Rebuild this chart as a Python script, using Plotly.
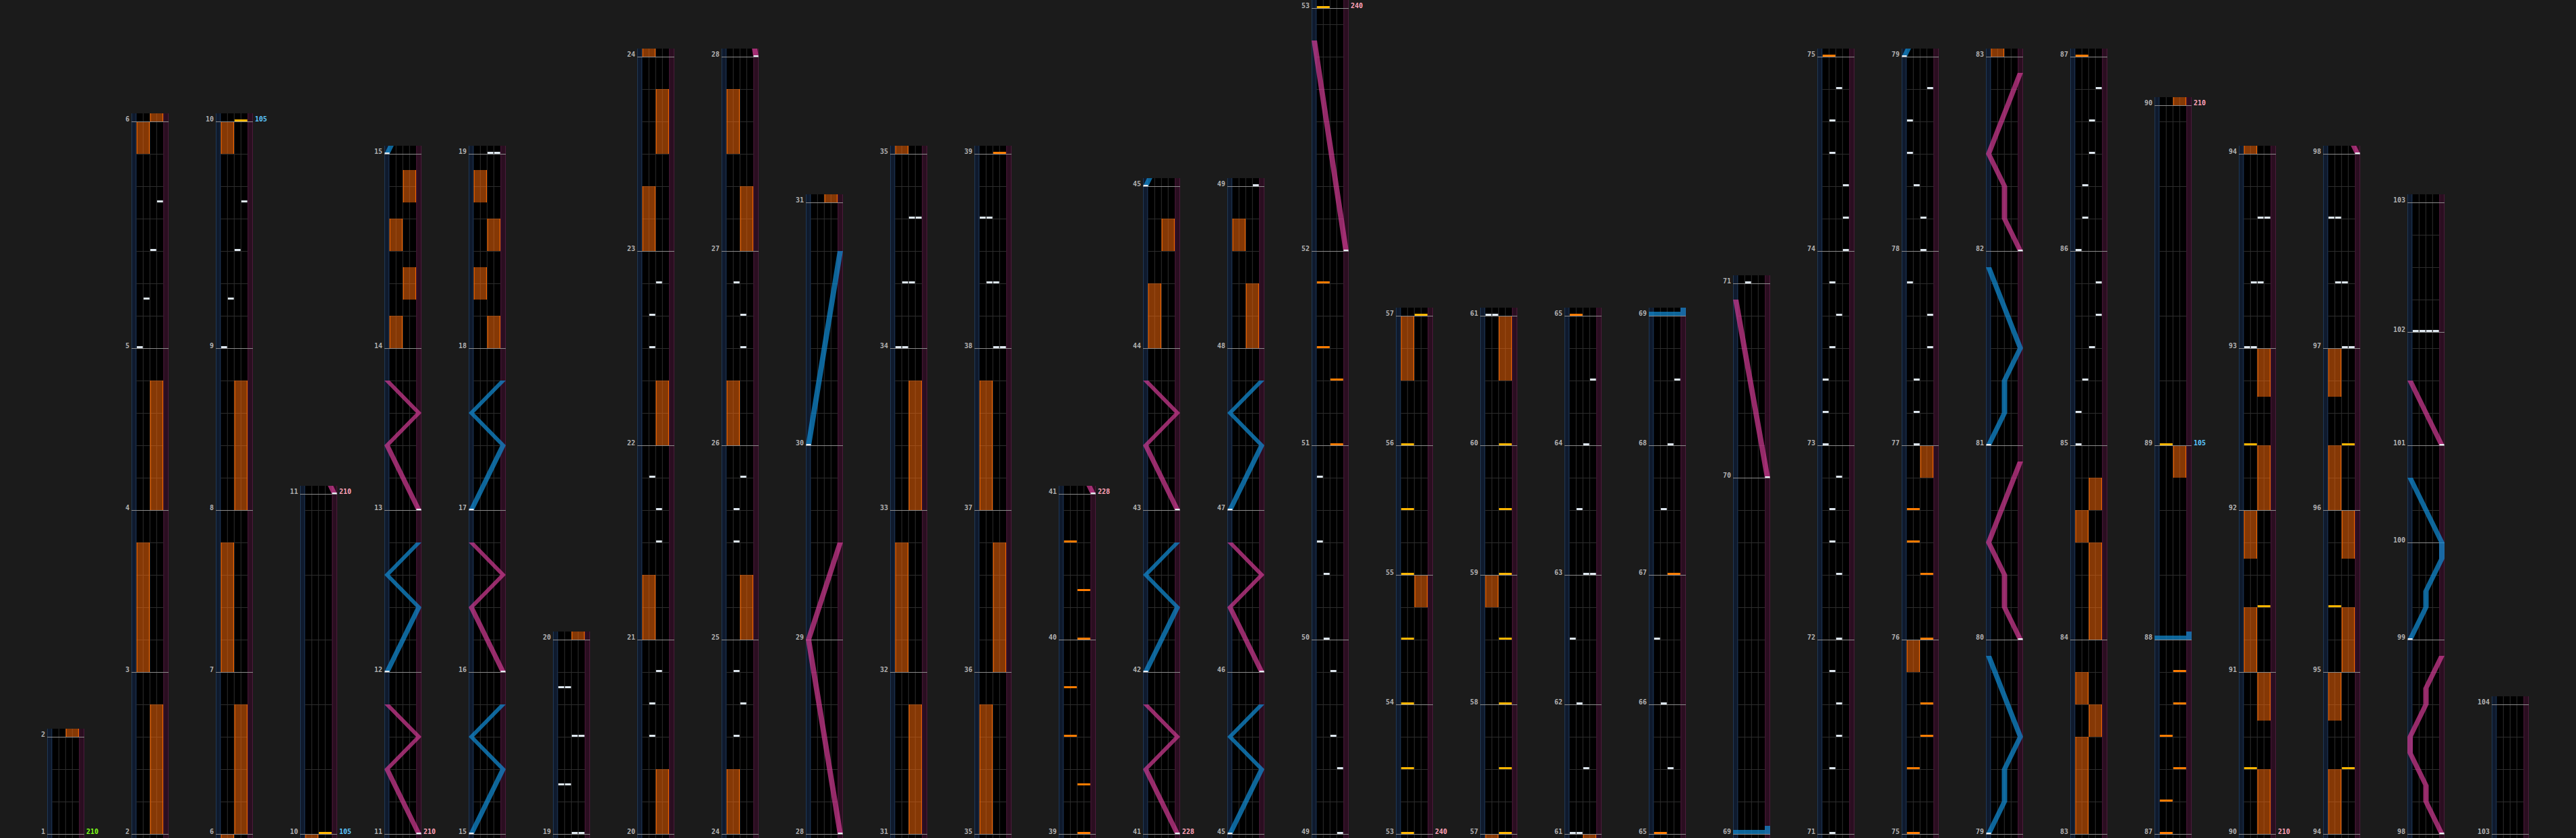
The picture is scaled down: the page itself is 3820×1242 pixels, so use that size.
import plotly.graph_objects as go

# ---------------------------------------------------------------- data
# beats (48px units) of every measure, measure 1 .. 104
MEASURE_BEATS = [
    3,
    5, 5, 5, 7,
    5, 5, 5, 7,
    10.5,
    5, 5, 5, 6,
    5, 5, 5, 6,
    6,
    6, 6, 6, 6,
    6, 6, 6, 6,
    6, 6, 7.5,
    5, 5, 5, 6,
    5, 5, 5, 6,
    6, 4.5,
    5, 5, 5, 5,
    5, 5, 5, 5,
    6, 6, 6, 7.5,
    4, 4, 4, 4,
    4, 4, 4, 4,
    4, 4, 4, 4,
    4, 4, 4, 4,
    11, 6,
    6, 6, 6, 6,
    6, 6, 6, 6,
    6, 6, 6, 6,
    6, 6, 6, 6,
    6, 6, 10.5,
    5, 5, 5, 6,
    5, 5, 5, 6,
    6, 3, 3, 3.5, 4,
    4,
    4,
]
WIDE_GRID_MEASURES = [10, 88, 89]
COLUMN_STARTS = [1, 2, 6, 10, 11, 15, 19, 20, 24, 28, 31, 35, 39, 41, 45,
                 49, 53, 57, 61, 65, 69, 71, 75, 79, 83, 87, 90, 94, 98, 103]
FINAL_MEASURE = 104
BPM_CHANGES = [(1, 210), (10, 105), (11, 210), (41, 228), (53, 240), (89, 105), (90, 210)]

# (measure, beat, lanes)
BT_CHIPS = [
    (5, 0, "A"), (5, 1.5, "B"), (5, 3, "C"), (5, 4.5, "D"),
    (9, 0, "A"), (9, 1.5, "B"), (9, 3, "C"), (9, 4.5, "D"),
    (19, 0, "CD"), (19, 1.5, "AB"), (19, 3, "CD"), (19, 4.5, "AB"),
    (20, 3, "B"), (20, 4, "B"), (20, 5, "C"),
    (21, 3, "C"), (21, 4, "C"), (21, 5, "B"),
    (22, 3, "B"), (22, 4, "B"), (22, 5, "C"),
    (24, 3, "B"), (24, 4, "C"), (24, 5, "B"),
    (25, 3, "B"), (25, 4, "B"), (25, 5, "C"),
    (26, 3, "C"), (26, 4, "C"), (26, 5, "B"),
    (34, 0, "AB"), (34, 2, "BC"), (34, 4, "CD"),
    (38, 0, "CD"), (38, 2, "BC"), (38, 4, "AB"),
    (49, 0, "D"), (49, 2, "D"), (49, 3, "C"), (49, 5, "C"),
    (50, 0, "B"), (50, 2, "B"), (50, 3, "A"), (50, 5, "A"),
    (61, 0, "AB"), (61, 2, "C"), (62, 0, "B"), (62, 2, "A"),
    (63, 0, "CD"), (63, 2, "B"), (64, 0, "C"), (64, 2, "D"),
    (65, 2, "C"), (66, 0, "B"), (66, 2, "A"), (67, 2, "B"), (68, 0, "C"), (68, 2, "D"),
    (71, 0, "B"), (71, 2, "B"), (71, 3, "C"), (71, 4, "C"), (71, 5, "B"),
    (72, 0, "C"), (72, 2, "C"), (72, 3, "B"), (72, 4, "B"), (72, 5, "C"),
    (73, 0, "A"), (73, 1, "A"), (73, 2, "A"), (73, 3, "B"), (73, 4, "C"), (73, 5, "B"),
    (74, 0, "D"), (74, 1, "D"), (74, 2, "D"), (74, 3, "B"), (74, 4, "B"), (74, 5, "C"),
    (77, 0, "B"), (77, 1, "B"), (77, 2, "B"), (77, 3, "D"), (77, 4, "D"), (77, 5, "A"),
    (78, 0, "C"), (78, 1, "C"), (78, 2, "B"), (78, 3, "A"), (78, 4, "A"), (78, 5, "D"),
    (85, 0, "A"), (85, 1, "A"), (85, 2, "B"), (85, 3, "C"), (85, 4, "D"), (85, 5, "D"),
    (86, 0, "A"), (86, 1, "B"), (86, 2, "B"), (86, 3, "C"), (86, 4, "C"), (86, 5, "D"),
    (93, 0, "AB"), (93, 2, "BC"), (93, 4, "CD"),
    (97, 0, "CD"), (97, 2, "BC"), (97, 4, "AB"),
    (102, 0, "ABCD"),
]

# (measure, beat, side, kind)  kind: o = orange chip, y = yellow chip
FX_CHIPS = [
    (10, 0, "R", "y"),
    (39, 0, "R", "o"), (39, 1.5, "R", "o"), (39, 3, "L", "o"), (39, 4.5, "L", "o"),
    (40, 0, "R", "o"), (40, 1.5, "R", "o"), (40, 3, "L", "o"),
    (51, 0, "R", "o"), (51, 2, "R", "o"), (51, 3, "L", "o"), (51, 5, "L", "o"),
    (53, 0, "L", "y"), (53, 2, "L", "y"), (54, 0, "L", "y"), (54, 2, "L", "y"),
    (55, 0, "L", "y"), (55, 2, "L", "y"), (56, 0, "L", "y"),
    (57, 0, "R", "y"), (57, 2, "R", "y"), (58, 0, "R", "y"), (58, 2, "R", "y"),
    (59, 0, "R", "y"), (59, 2, "R", "y"), (60, 0, "R", "y"),
    (65, 0, "L", "o"), (67, 0, "R", "o"),
    (75, 0, "L", "o"), (75, 2, "L", "o"), (75, 3, "R", "o"), (75, 4, "R", "o"),
    (76, 0, "R", "o"), (76, 2, "R", "o"), (76, 3, "L", "o"), (76, 4, "L", "o"),
    (87, 0, "L", "o"), (87, 1, "L", "o"), (87, 2, "R", "o"), (87, 3, "L", "o"),
    (87, 4, "R", "o"), (87, 5, "R", "o"),
    (89, 0, "L", "y"),
    (90, 2, "L", "y"), (91, 2, "R", "y"), (92, 2, "L", "y"),
    (94, 2, "R", "y"), (95, 2, "L", "y"), (96, 2, "R", "y"),
]

# (measure, start beat, end beat, side)
FX_HOLDS = [
    (2, 0, 4, "R"), (3, 0, 4, "L"), (4, 0, 4, "R"), (5, 6, 7, "L"),
    (6, 0, 4, "R"), (7, 0, 4, "L"), (8, 0, 4, "R"), (9, 6, 7, "L"),
    (14, 0, 1, "L"), (14, 1.5, 2.5, "R"), (14, 3, 4, "L"), (14, 4.5, 5.5, "R"),
    (18, 0, 1, "R"), (18, 1.5, 2.5, "L"), (18, 3, 4, "R"), (18, 4.5, 5.5, "L"),
    (20, 0, 2, "R"), (21, 0, 2, "L"), (22, 0, 2, "R"), (23, 0, 2, "L"), (23, 3, 5, "R"),
    (24, 0, 2, "L"), (25, 0, 2, "R"), (26, 0, 2, "L"), (27, 0, 2, "R"), (27, 3, 5, "L"),
    (31, 0, 4, "R"), (32, 0, 4, "L"), (33, 0, 4, "R"),
    (35, 0, 4, "L"), (36, 0, 4, "R"), (37, 0, 4, "L"),
    (44, 0, 2, "L"), (44, 3, 4, "R"),
    (48, 0, 2, "R"), (48, 3, 4, "L"),
    (54, 3, 4, "R"), (56, 2, 4, "L"),
    (58, 3, 4, "L"), (60, 2, 4, "R"),
    (75, 5, 6, "L"), (76, 5, 6, "R"),
    (83, 0, 3, "L"), (83, 3, 4, "R"), (83, 4, 5, "L"),
    (84, 0, 3, "R"), (84, 3, 4, "L"), (84, 4, 5, "R"),
    (88, 5, 6, "R"),
    (90, 0, 2, "R"), (90, 3.5, 5, "R"), (91, 0, 2, "L"), (91, 3.5, 5, "L"),
    (92, 0, 2, "R"), (92, 3.5, 5, "R"),
    (94, 0, 2, "L"), (94, 3.5, 5, "L"), (95, 0, 2, "R"), (95, 3.5, 5, "R"),
    (96, 0, 2, "L"), (96, 3.5, 5, "L"),
]

# lasers: (side, [(measure, beat, position 0..1), ...])
LASERS = [
    ("R", [(11, 0, 1), (11, 2, 0), (11, 3, 1), (11, 4, 0)]),
    ("L", [(12, 0, 0), (12, 2, 1), (12, 3, 0), (12, 4, 1)]),
    ("R", [(13, 0, 1), (13, 2, 0), (13, 3, 1), (13, 4, 0)]),
    ("L", [(15, 0, 0), (15, 2, 1), (15, 3, 0), (15, 4, 1)]),
    ("R", [(16, 0, 1), (16, 2, 0), (16, 3, 1), (16, 4, 0)]),
    ("L", [(17, 0, 0), (17, 2, 1), (17, 3, 0), (17, 4, 1)]),
    ("R", [(28, 0, 1), (29, 0, 0), (29, 3, 1)]),
    ("L", [(30, 0, 0), (30, 6, 1)]),
    ("R", [(41, 0, 1), (41, 2, 0), (41, 3, 1), (41, 4, 0)]),
    ("L", [(42, 0, 0), (42, 2, 1), (42, 3, 0), (42, 4, 1)]),
    ("R", [(43, 0, 1), (43, 2, 0), (43, 3, 1), (43, 4, 0)]),
    ("L", [(45, 0, 0), (45, 2, 1), (45, 3, 0), (45, 4, 1)]),
    ("R", [(46, 0, 1), (46, 2, 0), (46, 3, 1), (46, 4, 0)]),
    ("L", [(47, 0, 0), (47, 2, 1), (47, 3, 0), (47, 4, 1)]),
    ("R", [(52, 0, 1), (52, 6.5, 0)]),
    ("R", [(70, 0, 1), (70, 5.5, 0)]),
    ("L", [(79, 0, 0), (79, 1, 0.5), (79, 2, 0.5), (79, 3, 1), (79, 5.5, 0)]),
    ("R", [(80, 0, 1), (80, 1, 0.5), (80, 2, 0.5), (80, 3, 0), (80, 5.5, 1)]),
    ("L", [(81, 0, 0), (81, 1, 0.5), (81, 2, 0.5), (81, 3, 1), (81, 5.5, 0)]),
    ("R", [(82, 0, 1), (82, 1, 0.5), (82, 2, 0.5), (82, 3, 0), (82, 5.5, 1)]),
    ("R", [(98, 0, 1), (98, 1, 0.5), (98, 1.5, 0.5), (98, 2.5, 0), (98, 3, 0),
           (98, 4, 0.5), (98, 4.5, 0.5), (98, 5.5, 1)]),
    ("L", [(99, 0, 0), (99, 1, 0.5), (99, 1.5, 0.5), (99, 2.5, 1), (100, 0, 1), (100, 2, 0)]),
    ("R", [(101, 0, 1), (101, 2, 0)]),
]
# laser slams: (side, measure, beat, from position, to position)
SLAMS = [("L", 69, 0, 0, 1), ("L", 88, 0, 0, 1)]

# ---------------------------------------------------------------- layout math
W, H = 3820, 1242
PX_BEAT = 48
BASE_Y = 1236
X_FIRST = 70
COL_STEP = 125
COL_W = 55
LANE_X = 7.3
LANE_W = 10
LASER_HW = 4

T = {1: 0.0}
for i, b in enumerate(MEASURE_BEATS):
    T[i + 2] = T[i + 1] + b * PX_BEAT


def t_of(m, beat):
    return T[m] + beat * PX_BEAT


bpm_at = {}
prev = None
for m, v in BPM_CHANGES:
    if prev is None:
        col = "#7dff1a"
    elif v < prev:
        col = "#5cc8ff"
    else:
        col = "#ffa3b8"
    bpm_at[m] = (v, col)
    prev = v

buckets = {}


def bucket(name):
    return buckets.setdefault(name, ([], []))


def rect(name, xa, xb, ya, yb):
    xs, ys = bucket(name)
    xs.extend([xa, xb, xb, xa, xa, None])
    ys.extend([ya, ya, yb, yb, ya, None])


def seg(name, xa, ya, xb, yb):
    xs, ys = bucket(name)
    xs.extend([xa, xb, None])
    ys.extend([ya, yb, None])


def poly(name, pts):
    xs, ys = bucket(name)
    for x, y in pts:
        xs.append(x)
        ys.append(y)
    xs.append(pts[0][0]); ys.append(pts[0][1])
    xs.append(None); ys.append(None)


annotations = []


def label(x, y, text, color, anchor):
    annotations.append(dict(
        x=x, y=y, xref="x", yref="y", text="<b>%s</b>" % text, showarrow=False,
        xanchor=anchor, yanchor="middle",
        font=dict(family="DejaVu Sans Mono", size=10, color=color)))


def draw_column(ci):
    s = COLUMN_STARTS[ci]
    e = COLUMN_STARTS[ci + 1] if ci + 1 < len(COLUMN_STARTS) else FINAL_MEASURE
    x0 = X_FIRST + ci * COL_STEP
    tb, te = T[s], T[e]
    lo, hi = tb - 6, te + 12

    def Y(t):
        return BASE_Y - (t - tb)

    ytop, ybot = Y(hi), Y(lo)
    xl, xr = x0 + LANE_X, x0 + LANE_X + 4 * LANE_W
    rect("bg", x0, x0 + COL_W, ytop, ybot)
    rect("lstrip", x0, xl, ytop, ybot)
    rect("rstrip", xr, x0 + COL_W, ytop, ybot)
    seg("lstrip_edge", x0 + 0.5, ytop, x0 + 0.5, ybot)
    seg("lstrip_edge", xl - 0.5, ytop, xl - 0.5, ybot)
    seg("rstrip_edge", xr + 0.5, ytop, xr + 0.5, ybot)
    seg("rstrip_edge", x0 + COL_W - 0.5, ytop, x0 + COL_W - 0.5, ybot)
    for k in range(1, 4):
        xx = xl + k * LANE_W
        seg("grid", xx, ytop, xx, ybot)

    # beat grid
    for m in range(s, e):
        step = PX_BEAT * (2 if m in WIDE_GRID_MEASURES else 1)
        t = T[m] + step
        while t < T[m + 1] - 1:
            seg("grid", xl, Y(t) + 0.5, xr, Y(t) + 0.5)
            t += step

    # fx holds
    for m, b1, b2, side in FX_HOLDS:
        t1, t2 = max(t_of(m, b1), lo), min(t_of(m, b2), hi)
        if t2 <= t1:
            continue
        xa = xl + (0 if side == "L" else 2 * LANE_W) + 0.4
        xb = xa + 2 * LANE_W - 0.8
        rect("hold", xa, xb, Y(t2), Y(t1))
        seg("hold_edge", xa + 0.5, Y(t2), xa + 0.5, Y(t1))
        seg("hold_edge", xb - 0.5, Y(t2), xb - 0.5, Y(t1))

    # measure lines and labels
    for m in range(s, e + 1):
        yy = Y(T[m])
        seg("mline", x0, yy + 0.5, x0 + COL_W, yy + 0.5)
        label(x0 - 1, yy - 4, str(m), "#b2b2b2", "right")
        if m in bpm_at:
            v, c = bpm_at[m]
            label(x0 + COL_W + 1, yy - 4, str(v), c, "left")

    # lasers
    for side, pts in LASERS:
        tp = [(t_of(m, b), p) for m, b, p in pts]
        clipped = []
        for i in range(len(tp) - 1):
            (ta, pa), (tb2, pb) = tp[i], tp[i + 1]
            a, b = max(ta, lo), min(tb2, hi)
            if b <= a:
                continue
            fa = (a - ta) / (tb2 - ta)
            fb = (b - ta) / (tb2 - ta)
            qa = pa + (pb - pa) * fa
            qb = pa + (pb - pa) * fb
            if not clipped or abs(clipped[-1][0] - a) > 1e-6:
                if clipped:
                    clipped.append(None)
                clipped.append((a, qa))
            clipped.append((b, qb))
        runs, cur = [], []
        for q in clipped:
            if q is None:
                runs.append(cur); cur = []
            else:
                cur.append(q)
        if cur:
            runs.append(cur)
        for run in runs:
            left = [(x0 + 4 + 47 * p - LASER_HW, Y(t)) for t, p in run]
            right = [(x0 + 4 + 47 * p + LASER_HW, Y(t)) for t, p in run]
            poly("laser_" + side, left + right[::-1])
        t0, p0 = tp[0]
        if lo <= t0 <= hi:
            cx = x0 + 4 + 47 * p0
            rect("laser_start", cx - 3.5, cx + 3.5, Y(t0) - 2, Y(t0))

    for side, m, b, pf, pt in SLAMS:
        t = t_of(m, b)
        if not (lo <= t <= hi):
            continue
        ca, cb = x0 + 4 + 47 * pf, x0 + 4 + 47 * pt
        rect("laser_" + side, min(ca, cb) - LASER_HW, max(ca, cb) + LASER_HW, Y(t) - 6, Y(t))
        rect("laser_" + side, cb - LASER_HW, cb + LASER_HW, Y(t) - 12, Y(t) - 6)

    # chips
    for m, b, lanes in BT_CHIPS:
        t = t_of(m, b)
        if not (lo <= t <= hi):
            continue
        for ch in lanes:
            k = "ABCD".index(ch)
            xa = xl + k * LANE_W + 0.6
            rect("bt", xa, xa + LANE_W - 1.2, Y(t) - 3, Y(t))
    for m, b, side, kind in FX_CHIPS:
        t = t_of(m, b)
        if not (lo <= t <= hi):
            continue
        xa = xl + (0 if side == "L" else 2 * LANE_W) + 0.5
        rect("fx_" + kind, xa, xa + 2 * LANE_W - 1, Y(t) - 3, Y(t))


for ci in range(len(COLUMN_STARTS)):
    draw_column(ci)

STYLES = [
    ("bg", "fill", "#000000"),
    ("lstrip", "fill", "#0f1a2d"),
    ("rstrip", "fill", "#2a0e20"),
    ("lstrip_edge", "line", "#1f3856"),
    ("rstrip_edge", "line", "#4c1a3b"),
    ("grid", "line", "#2d2d2d"),
    ("hold", "fill", "rgba(255,108,10,0.52)"),
    ("hold_edge", "line", "#ff6c00"),
    ("mline", "line", "#8c8c8c"),
    ("laser_L", "fill", "rgba(18,140,212,0.72)"),
    ("laser_R", "fill", "rgba(212,60,150,0.70)"),
    ("laser_start", "fill", "#e8eef5"),
    ("bt", "fill", "#dde6ee"),
    ("fx_o", "fill", "#ff7c00"),
    ("fx_y", "fill", "#ffb600"),
]

fig = go.Figure()
for name, kind, color in STYLES:
    if name not in buckets:
        continue
    xs, ys = buckets[name]
    if kind == "fill":
        fig.add_trace(go.Scatter(x=xs, y=ys, mode="lines", fill="toself", fillcolor=color,
                                 line=dict(width=0, color=color), hoverinfo="skip",
                                 showlegend=False))
    else:
        fig.add_trace(go.Scatter(x=xs, y=ys, mode="lines", line=dict(width=1, color=color),
                                 hoverinfo="skip", showlegend=False))

fig.update_layout(
    width=W, height=H, autosize=False,
    margin=dict(l=0, r=0, t=0, b=0, pad=0),
    paper_bgcolor="#1b1b1b", plot_bgcolor="#1b1b1b",
    xaxis=dict(range=[0, W], visible=False, fixedrange=True),
    yaxis=dict(range=[H, 0], visible=False, fixedrange=True),
    annotations=annotations,
    hovermode=False,
)
PAGE_FIX = ("document.body.style.margin='0px';document.body.style.padding='0px';"
            "document.body.style.background='#1b1b1b';document.body.style.overflow='hidden';")
fig.write_html("out.html", config={"displayModeBar": False}, post_script=PAGE_FIX)
